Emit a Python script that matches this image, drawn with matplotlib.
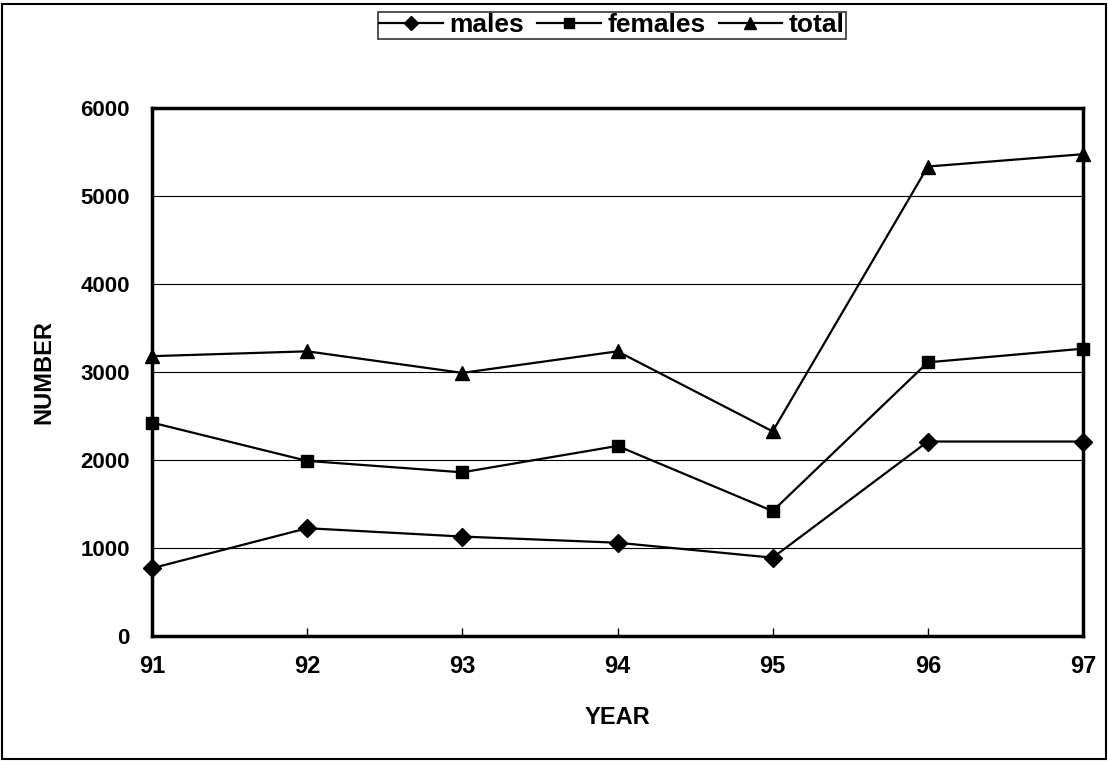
import matplotlib.pyplot as plt
from matplotlib.patches import Rectangle

years = ['91', '92', '93', '94', '95', '96', '97']
males = [770, 1225, 1130, 1060, 890, 2210, 2210]
females = [2425, 1990, 1860, 2160, 1420, 3110, 3265]
total = [3180, 3235, 2990, 3235, 2325, 5335, 5475]

plt.rcParams['font.family'] = ['Liberation Sans', 'DejaVu Sans']
plt.rcParams['font.weight'] = 'bold'

fig = plt.figure(figsize=(11.08, 7.61), dpi=100)
ax = fig.add_axes([152 / 1108, 1 - 636 / 761, (1083 - 152) / 1108, (636 - 108) / 761])

x = list(range(len(years)))
ax.plot(x, males, 'D-', color='black', lw=1.6, markersize=9, label='males', clip_on=False, zorder=3)
ax.plot(x, females, 's-', color='black', lw=1.6, markersize=8.5, label='females', clip_on=False, zorder=3)
ax.plot(x, total, '^-', color='black', lw=1.6, markersize=10, label='total', clip_on=False, zorder=3)

ax.set_xlim(0, len(years) - 1)
ax.set_ylim(0, 6000)
ax.set_yticks(range(0, 6001, 1000))
ax.set_xticks(x)
ax.set_xticklabels(years)
ax.yaxis.grid(True, color='black', lw=0.8)
ax.set_axisbelow(True)
for s in ax.spines.values():
    s.set_linewidth(2.5)
ax.tick_params(axis='x', direction='in', length=6, width=1, pad=14, labelsize=17)
ax.tick_params(axis='y', length=0, pad=16, labelsize=16)
ax.set_xlabel('YEAR', fontsize=17, fontweight='bold', labelpad=20)
ax.set_ylabel('NUMBER', fontsize=17, fontweight='bold', labelpad=18)

leg = fig.legend(loc='upper center', bbox_to_anchor=(612 / 1108, 1 - 12 / 761), ncol=3,
                 frameon=True, fancybox=False, edgecolor='black', fontsize=19,
                 handlelength=2.4, columnspacing=0.5, handletextpad=0.25,
                 borderpad=0.05, borderaxespad=0, markerscale=0.8)
leg.get_frame().set_linewidth(1.2)
for t in leg.get_texts():
    t.set_fontweight('bold')

fig.patches.append(Rectangle((0.002, 0.002), 0.996, 0.993, transform=fig.transFigure,
                             fill=False, edgecolor='black', lw=1.5))

fig.savefig('out.png', dpi=100)
